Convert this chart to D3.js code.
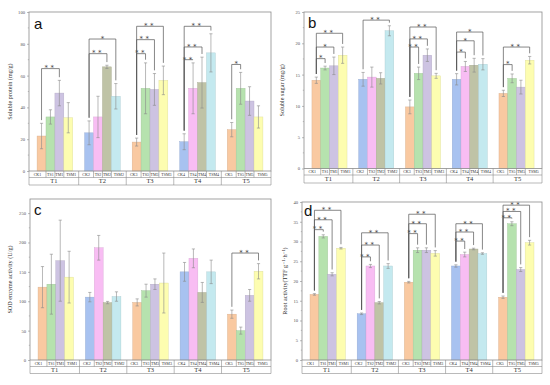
<!DOCTYPE html>
<html>
<head>
<meta charset="utf-8">
<script src="https://cdn.jsdelivr.net/npm/d3@7/dist/d3.min.js"></script>
<style>
  body { margin: 0; background: #fff; }
</style>
</head>
<body>
<svg id="fig" width="550" height="385"></svg>
<script>
// ---- data ----
const groups = ["T1", "T2", "T3", "T4", "T5"];
const treatments = ["CK", "TS", "TM", "TSM"];
const colorsOdd = ["#f9c9a1", "#b6e2ae", "#cdc3e2", "#fdfdb0"];
const colorsEven = ["#a8c2f0", "#f8bdf3", "#bfc3a6", "#c4e9ef"];

// a: soluble protein
const proteinMean = [[22, 34, 49, 33.5], [24, 34, 65.5, 47], [18.2, 52, 51.3, 57], [18.4, 52, 55.6, 74.3], [26, 52, 44, 34]];
const proteinSd = [[8, 4.5, 8, 9.5], [7.5, 13, 1, 8], [2.5, 16, 10, 9], [5, 16, 16, 12], [4.5, 10, 9, 7]];
const proteinSig = [[0, 2, 64.4, "**"], [1, 2, 73.8, "**"], [1, 3, 83, "*"], [2, 1, 73.8, "**"], [2, 2, 82.6, "**"], [2, 3, 91, "**"],
  [3, 1, 70, "**"], [3, 2, 78, "**"], [3, 3, 91, "**"], [4, 1, 67, "*"]];

// b: soluble sugar
const sugarMean = [[14.1, 16.05, 16.4, 18.1], [14.25, 14.6, 14.4, 22], [9.84, 15.2, 18.1, 14.8], [14.25, 16.3, 16.5, 16.65], [12, 14.4, 13, 17.3]];
const sugarSd = [[0.5, 0.3, 1.4, 1.3], [1.1, 1.6, 0.9, 0.8], [1.1, 1, 1, 0.4], [0.9, 0.8, 1.1, 0.9], [0.5, 0.7, 1.1, 0.6]];
const sugarSig = [[0, 1, 17.55, "*"], [0, 2, 19.4, "*"], [0, 3, 21.6, "**"], [1, 3, 23.7, "**"], [2, 1, 19.4, "**"], [2, 2, 20.7, "**"],
  [2, 3, 22.6, "**"], [3, 1, 18.6, "*"], [3, 2, 20.4, "*"], [3, 3, 21.8, "*"], [4, 1, 16.6, "*"], [4, 3, 19.4, "**"]];

// c: SOD enzyme activity
const sodMean = [[124, 129, 169, 141], [107, 191, 97.7, 108], [98, 118, 129, 131], [150, 173, 115, 150], [78, 50, 110, 151]];
const sodSd = [[35, 51, 69, 44], [8, 21, 2, 8], [6, 11, 9, 51], [16, 16, 17, 20], [7, 6, 10, 13]];
const sodSig = [[4, 3, 182, "**"]];

// d: root activity
const rootMean = [[16.6, 31.3, 21.7, 28.3], [11.7, 23.8, 14.5, 23.8], [19.7, 27.8, 27.8, 27], [23.8, 26.7, 28.1, 26.95], [15.9, 34.5, 22.9, 29.7]];
const rootSd = [[0.2, 0.4, 0.4, 0.2], [0.2, 0.4, 0.3, 0.6], [0.2, 0.6, 0.6, 0.7], [0.3, 0.6, 0.2, 0.2], [0.3, 0.5, 0.5, 0.6]];
const rootSig = [[0, 1, 33, "**"], [0, 2, 35.5, "**"], [0, 3, 37.9, "**"], [1, 1, 26.1, "**"], [1, 2, 29.1, "**"], [1, 3, 32.2, "**"],
  [2, 1, 32, "**"], [2, 2, 34.5, "**"], [2, 3, 36.9, "**"], [3, 1, 30.1, "**"], [3, 2, 32.4, "**"], [3, 3, 34.5, "**"],
  [4, 1, 36, "**"], [4, 2, 37.6, "**"], [4, 3, 39.2, "**"]];

const panels = [
  { letter: "a", label: "Soluble protein (mg/g)", mean: proteinMean, sd: proteinSd, sig: proteinSig,
    ymax: 100, ticks: [0, 20, 40, 60, 80, 100],
    left: 29, right: 271, top: 12, bottom: 171, rowMid: 177.5, rowBot: 185, labelX: 12, letterPos: [34, 29] },
  { letter: "b", label: "Soluble sugar (mg/g)", mean: sugarMean, sd: sugarSd, sig: sugarSig,
    ymax: 25, ticks: [0, 5, 10, 15, 20, 25],
    left: 304, right: 542, top: 12, bottom: 168.5, rowMid: 175, rowBot: 183, labelX: 284, letterPos: [308, 28] },
  { letter: "c", label: "SOD enzyme activity (U/g)", mean: sodMean, sd: sodSd, sig: sodSig,
    ymax: 274, ticks: [0, 50, 100, 150, 200, 250],
    left: 30, right: 271, top: 199, bottom: 360, rowMid: 366.5, rowBot: 373.5, labelX: 12, letterPos: [34, 215] },
  { letter: "d", label: "Root activity(TTF g\u207B\u00B9\u00B7h\u207B\u00B9)", mean: rootMean, sd: rootSd, sig: rootSig,
    ymax: 40, ticks: [0, 5, 10, 15, 20, 25, 30, 35, 40],
    left: 302, right: 542, top: 202, bottom: 360, rowMid: 366.5, rowBot: 373.5, labelX: 287, letterPos: [304, 216] }
];

const svg = d3.select("#fig");
const serif = "'Liberation Serif', 'DejaVu Serif', serif";
const lineCol = "#8c8c8c";

function drawPanel(p) {
  const g = svg.append("g");

  const x0 = d3.scaleBand().domain(groups).range([p.left, p.right])
    .paddingInner(0.25).paddingOuter(0.17);
  const x1 = d3.scaleBand().domain(treatments).range([0, x0.bandwidth()]);
  const y = d3.scaleLinear().domain([0, p.ymax]).range([p.bottom, p.top]);

  // bars
  groups.forEach((grp, gi) => {
    const cols = gi % 2 === 0 ? colorsOdd : colorsEven;
    treatments.forEach((t, ti) => {
      const v = p.mean[gi][ti];
      g.append("rect")
        .attr("x", x0(grp) + x1(t))
        .attr("y", y(v))
        .attr("width", x1.bandwidth())
        .attr("height", y(0) - y(v))
        .attr("fill", cols[ti])
        .attr("stroke", d3.color(cols[ti]).darker(0.4))
        .attr("stroke-width", 0.4);
    });
  });

  // error bars
  groups.forEach((grp, gi) => {
    treatments.forEach((t, ti) => {
      const v = p.mean[gi][ti], s = p.sd[gi][ti];
      const cx = x0(grp) + x1(t) + x1.bandwidth() / 2;
      const e = g.append("g").attr("stroke", "#8a8a8a").attr("stroke-width", 0.6);
      e.append("line").attr("x1", cx).attr("x2", cx).attr("y1", y(v - s)).attr("y2", y(v + s));
      e.append("line").attr("x1", cx - 1.6).attr("x2", cx + 1.6).attr("y1", y(v - s)).attr("y2", y(v - s));
      e.append("line").attr("x1", cx - 1.6).attr("x2", cx + 1.6).attr("y1", y(v + s)).attr("y2", y(v + s));
    });
  });

  // significance brackets
  const gap = p.ymax * 0.02;
  p.sig.forEach(([gi, ti, level, mark]) => {
    const grp = groups[gi];
    const xa = x0(grp) + x1("CK") + x1.bandwidth() / 2;
    const xb = x0(grp) + x1(treatments[ti]) + x1.bandwidth() / 2;
    const ya = p.mean[gi][0] + p.sd[gi][0] + gap;
    const yb = p.mean[gi][ti] + p.sd[gi][ti] + gap;
    g.append("path")
      .attr("d", `M${xa},${y(ya)}V${y(level)}H${xb}V${y(yb)}`)
      .attr("fill", "none")
      .attr("stroke", "#555")
      .attr("stroke-width", 0.7);
    g.append("text")
      .attr("x", (xa + xb) / 2)
      .attr("y", y(level) + 1.8)
      .attr("text-anchor", "middle")
      .attr("font-family", "'DejaVu Sans', sans-serif")
      .attr("font-size", 7)
      .attr("fill", "#444")
      .attr("letter-spacing", mark.length > 1 ? 2.5 : 0)
      .text(mark);
  });

  // frame
  g.append("rect")
    .attr("x", p.left).attr("y", p.top)
    .attr("width", p.right - p.left).attr("height", p.bottom - p.top)
    .attr("fill", "none").attr("stroke", lineCol).attr("stroke-width", 0.8);

  // y axis
  const axis = g.append("g")
    .attr("transform", `translate(${p.left},0)`)
    .call(d3.axisLeft(y).tickValues(p.ticks).tickSize(2).tickPadding(2));
  axis.select(".domain").remove();
  axis.selectAll(".tick line").attr("stroke", lineCol).attr("stroke-width", 0.6);
  axis.selectAll(".tick text")
    .attr("font-family", serif).attr("font-size", 4.6).attr("fill", "#555");
  // minor ticks
  const minor = d3.range(1, p.ticks.length).map(i => (p.ticks[i - 1] + p.ticks[i]) / 2);
  g.append("g").selectAll("line").data(minor).join("line")
    .attr("x1", p.left - 1.2).attr("x2", p.left)
    .attr("y1", d => y(d)).attr("y2", d => y(d))
    .attr("stroke", lineCol).attr("stroke-width", 0.5);

  // y label
  g.append("text")
    .attr("transform", `translate(${p.labelX},${(p.top + p.bottom) / 2}) rotate(-90)`)
    .attr("text-anchor", "middle")
    .attr("font-family", serif)
    .attr("font-size", 6.2)
    .attr("fill", "#333")
    .text(p.label);

  // panel letter
  g.append("text")
    .attr("x", p.letterPos[0]).attr("y", p.letterPos[1])
    .attr("font-family", "'Liberation Sans', Arial, sans-serif")
    .attr("font-size", 15)
    .attr("fill", "#111")
    .text(p.letter);

  // category table under the axis
  const step = x0.step();
  const innerGap = step * x0.paddingInner();
  const bounds = groups.map((grp, gi) => {
    const l = gi === 0 ? p.left : x0(grp) - innerGap / 2;
    const r = gi === groups.length - 1 ? p.right : x0(grp) + x0.bandwidth() + innerGap / 2;
    return [l, r];
  });
  const tbl = g.append("g").attr("stroke", lineCol).attr("stroke-width", 0.6);
  tbl.append("line").attr("x1", p.left).attr("x2", p.right).attr("y1", p.rowMid).attr("y2", p.rowMid);
  tbl.append("line").attr("x1", p.left).attr("x2", p.right).attr("y1", p.rowBot).attr("y2", p.rowBot);
  tbl.append("line").attr("x1", p.left).attr("x2", p.left).attr("y1", p.bottom).attr("y2", p.rowBot);
  tbl.append("line").attr("x1", p.right).attr("x2", p.right).attr("y1", p.bottom).attr("y2", p.rowBot);

  groups.forEach((grp, gi) => {
    const [l, r] = bounds[gi];
    if (gi > 0) {
      tbl.append("line").attr("x1", l).attr("x2", l).attr("y1", p.bottom).attr("y2", p.rowBot);
    }
    // cell edges between bars
    const edges = [l];
    treatments.slice(1).forEach(t => edges.push(x0(grp) + x1(t)));
    edges.push(r);
    edges.slice(1, -1).forEach(ex => {
      tbl.append("line").attr("x1", ex).attr("x2", ex).attr("y1", p.bottom).attr("y2", p.rowMid);
    });
    treatments.forEach((t, ti) => {
      g.append("text")
        .attr("x", (edges[ti] + edges[ti + 1]) / 2)
        .attr("y", (p.bottom + p.rowMid) / 2 + 1.5)
        .attr("text-anchor", "middle")
        .attr("font-family", serif)
        .attr("font-size", 4)
        .attr("fill", "#333")
        .text(t + (gi + 1));
    });
    g.append("text")
      .attr("x", (l + r) / 2)
      .attr("y", (p.rowMid + p.rowBot) / 2 + 2.2)
      .attr("text-anchor", "middle")
      .attr("font-family", serif)
      .attr("font-size", 6.5)
      .attr("fill", "#333")
      .text(grp);
  });
}

panels.forEach(drawPanel);
</script>
</body>
</html>
